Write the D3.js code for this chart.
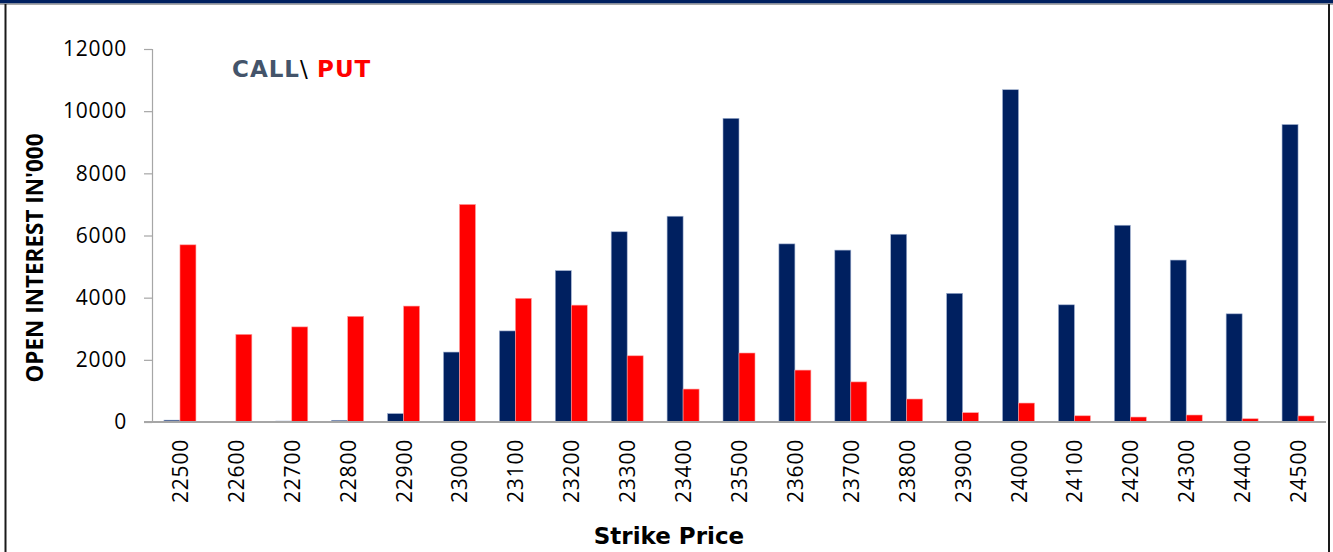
<!DOCTYPE html>
<html><head><meta charset="utf-8">
<script src="https://cdn.jsdelivr.net/npm/d3@7"></script>
<style>html,body{margin:0;padding:0;background:#fff;overflow:hidden}</style>
</head><body><svg id="c" width="1333" height="552"></svg>
<script>
const strikes = ["22500","22600","22700","22800","22900","23000","23100","23200","23300","23400","23500","23600","23700","23800","23900","24000","24100","24200","24300","24400","24500"];
const callOI = [60,10,30,55,270,2250,2930,4870,6120,6620,9770,5730,5530,6040,4140,10690,3770,6330,5210,3480,9570];
const putOI  = [5700,2820,3060,3400,3730,7000,3980,3760,2130,1060,2220,1670,1290,740,300,610,200,160,225,105,195];
const yTicks = [0,2000,4000,6000,8000,10000,12000];

(function(){
const svg = d3.select("#c");
const W = 1333, H = 552;
const pLeft = 152, pRight = 1326, pTop = 49, pBottom = 422;

// frame
svg.append("rect").attr("x",0).attr("y",0).attr("width",W).attr("height",3.5).attr("fill","#002060");
svg.append("line").attr("x1",0).attr("x2",W).attr("y1",4.2).attr("y2",4.2).attr("stroke","#8c8c8c").attr("stroke-width",1.2);
svg.append("line").attr("x1",5.5).attr("x2",5.5).attr("y1",4).attr("y2",H).attr("stroke","#1a1a1a").attr("stroke-width",2);
svg.append("line").attr("x1",1329).attr("x2",1329).attr("y1",4).attr("y2",H).attr("stroke","#1a1a1a").attr("stroke-width",2);

const x = d3.scaleBand().domain(strikes).range([pLeft,pRight]).paddingInner(0).paddingOuter(0);
const y = d3.scaleLinear().domain([0,12000]).range([pBottom,pTop]);
const barW = 16;

// y axis
const yAxis = d3.axisLeft(y).tickValues(yTicks).tickSize(8).tickPadding(17).tickFormat(d3.format("d"));
const gy = svg.append("g").attr("transform",`translate(${pLeft},0)`).call(yAxis);
gy.select(".domain").attr("stroke","#a6a6a6").attr("stroke-width",1.2);
gy.selectAll(".tick line").attr("stroke","#a6a6a6").attr("stroke-width",1.2);
gy.selectAll(".tick text").attr("font-family","'Open Sans'").attr("font-size",21).attr("fill","#000").attr("letter-spacing","0.8px");

// bars
const g = svg.append("g");
g.selectAll("rect.call").data(strikes).join("rect").attr("class","call")
  .attr("x",d=>x(d)+x.bandwidth()/2-barW).attr("width",barW)
  .attr("y",(d,i)=>y(callOI[i])).attr("height",(d,i)=>pBottom-y(callOI[i]))
  .attr("fill","#002060").attr("stroke","#9fb0d0").attr("stroke-width",0.6);
g.selectAll("rect.put").data(strikes).join("rect").attr("class","put")
  .attr("x",d=>x(d)+x.bandwidth()/2).attr("width",barW)
  .attr("y",(d,i)=>y(putOI[i])).attr("height",(d,i)=>pBottom-y(putOI[i]))
  .attr("fill","#ff0000").attr("stroke","#ff9f9f").attr("stroke-width",0.6);

// x axis
const xAxis = d3.axisBottom(x).tickSize(0).tickPadding(0);
const gx = svg.append("g").attr("transform",`translate(0,${pBottom})`).call(xAxis);
gx.select(".domain").attr("stroke","#a6a6a6").attr("stroke-width",2).attr("d",`M${pLeft-8},0H${pRight}`);
gx.selectAll(".tick text").attr("font-family","'Open Sans'").attr("font-size",21).attr("fill","#000")
  .attr("letter-spacing","0.8px")
  .attr("text-anchor","end").attr("dominant-baseline","central")
  .attr("transform","translate(0,17) rotate(-90)").attr("x",0).attr("y",0).attr("dy",null);

// axis titles
svg.append("text").attr("x",669).attr("y",544).attr("text-anchor","middle")
  .attr("font-family","'DejaVu Sans'").attr("font-weight","bold").attr("font-size",23).attr("fill","#000").text("Strike Price");
svg.append("text").attr("transform","translate(43,258) rotate(-90)").attr("text-anchor","middle")
  .attr("font-family","'Open Sans'").attr("font-weight","bold").attr("font-size",22.5).attr("fill","#000").text("OPEN INTEREST IN'000");

// legend label
const lg = svg.append("text").attr("x",232).attr("y",77).attr("font-family","'DejaVu Sans'").attr("font-weight","bold").attr("font-size",23).attr("letter-spacing","1px");
lg.append("tspan").attr("fill","#44546a").text("CALL");
lg.append("tspan").attr("fill","#000").attr("font-weight","normal").text("\\ ");
lg.append("tspan").attr("fill","#ff0000").text("PUT");
})();
</script>
</body></html>
